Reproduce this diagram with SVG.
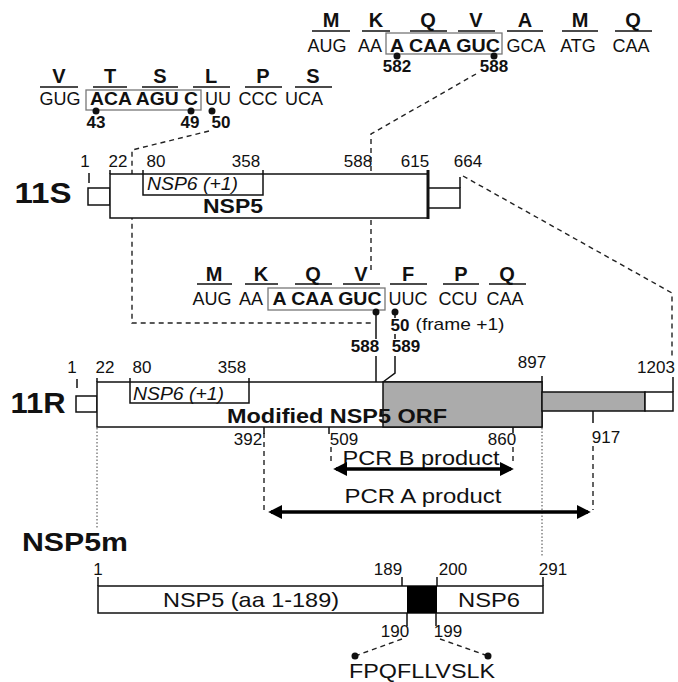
<svg xmlns="http://www.w3.org/2000/svg" width="678" height="682" viewBox="0 0 678 682">
<style>
text{font-family:"Liberation Sans",Arial,sans-serif;fill:#111;text-anchor:middle}
.aa{font-size:20px;font-weight:bold}
.cod{font-size:18px}
.codb{font-size:19px;font-weight:bold}
.num{font-size:17px}
.numb{font-size:17px;font-weight:bold}
.big{font-size:29px;font-weight:bold}
.lbl{font-size:20px;font-weight:bold}
.it{font-size:18px;font-style:italic;text-anchor:start}
.reg{font-size:21px}
.ln{stroke:#111;stroke-width:1.5;fill:none}
.thk{stroke:#111;stroke-width:3;fill:none}
.box{stroke:#111;stroke-width:1.5;fill:#fff}
.grey{stroke:#111;stroke-width:1.5;fill:#ababab}
.sbox{stroke:#777;stroke-width:1.3;fill:none}
.dash{stroke:#222;stroke-width:1.4;fill:none;stroke-dasharray:5,4}
.dot{stroke:#444;stroke-width:1;fill:none;stroke-dasharray:1.5,2}
.arr{stroke:#000;stroke-width:3.5;fill:none;marker-start:url(#ah);marker-end:url(#ah)}
</style>
<defs>
<marker id="ah" viewBox="0 0 10 10" refX="8" refY="5" markerWidth="4" markerHeight="4" orient="auto-start-reverse" markerUnits="strokeWidth">
<path d="M0,0 L10,5 L0,10 z" fill="#000"/>
</marker>
</defs>

<g id="connectors">
<path class="dash" d="M476,74 L371,134 L371,272"/>
<path class="dash" d="M209,131 L132,150 L132,323 L373,323"/>
<path class="dash" d="M463,176 L672,293 L672,357"/>
<path class="dot" d="M97,428 L97,528"/>
<path class="dot" d="M542,428 L542,556"/>
<path class="dash" d="M264,433 L264,510"/>
<path class="dash" d="M331,447 L331,464"/>
<path class="dash" d="M513,447 L513,464"/>
<path class="dash" d="M593,446 L593,510"/>
<path class="dash" d="M402,639 L355,656"/>
<path class="dash" d="M440,639 L488,656"/>
</g>

<g id="seq-top">
<text class="aa" x="331" y="27">M</text>
<text class="aa" x="376" y="27">K</text>
<text class="aa" x="428" y="27">Q</text>
<text class="aa" x="476" y="27">V</text>
<text class="aa" x="525" y="27">A</text>
<text class="aa" x="580" y="27">M</text>
<text class="aa" x="633" y="27">Q</text>
<path class="ln" d="M312,31H350M362,31H390M410,31H447M458,31H495M507,31H543M562,31H598M615,31H652"/>
<rect class="sbox" x="386" y="33" width="116" height="21"/>
<text class="cod" x="327" y="52">AUG</text>
<text class="cod" x="370" y="52">AA</text>
<text class="codb" x="445" y="52" textLength="110" lengthAdjust="spacingAndGlyphs">A CAA GUC</text>
<text class="cod" x="526" y="52">GCA</text>
<text class="cod" x="578" y="52">ATG</text>
<text class="cod" x="631" y="52">CAA</text>
<circle cx="397" cy="56" r="3.5" fill="#111"/>
<circle cx="494" cy="56" r="3.5" fill="#111"/>
<text class="numb" x="397" y="72">582</text>
<text class="numb" x="494" y="72">588</text>
</g>

<g id="seq-second">
<text class="aa" x="59" y="83">V</text>
<text class="aa" x="110" y="83">T</text>
<text class="aa" x="160" y="83">S</text>
<text class="aa" x="211" y="83">L</text>
<text class="aa" x="263" y="83">P</text>
<text class="aa" x="313" y="83">S</text>
<path class="ln" d="M40,87H78M93,87H127M142,87H178M193,87H230M245,87H282M295,87H332"/>
<rect class="sbox" x="86" y="90" width="115" height="20"/>
<text class="cod" x="60" y="105">GUG</text>
<text class="codb" x="144" y="105" textLength="108" lengthAdjust="spacingAndGlyphs">ACA AGU C</text>
<text class="cod" x="218" y="105">UU</text>
<text class="cod" x="258" y="105">CCC</text>
<text class="cod" x="304" y="105">UCA</text>
<circle cx="96" cy="111" r="3.5" fill="#111"/>
<circle cx="191" cy="111" r="3.5" fill="#111"/>
<circle cx="212" cy="111" r="3.5" fill="#111"/>
<text class="numb" x="96" y="128">43</text>
<text class="numb" x="190" y="128">49</text>
<text class="numb" x="221" y="128">50</text>
</g>

<g id="gene-11S">
<text class="big" x="43" y="203" textLength="57" lengthAdjust="spacingAndGlyphs">11S</text>
<text class="num" x="85" y="167">1</text>
<text class="num" x="118" y="167">22</text>
<text class="num" x="156" y="167">80</text>
<text class="num" x="246" y="167">358</text>
<text class="num" x="358" y="167">588</text>
<text class="num" x="415" y="167">615</text>
<text class="num" x="468" y="167">664</text>
<path class="ln" d="M89,173V183"/>
<rect class="box" x="88" y="188" width="22" height="17"/>
<rect class="box" x="110" y="174" width="318" height="44"/>
<path class="ln" d="M110,170V174"/>
<path class="ln" d="M143,170V195H263V170"/>
<text class="it" x="147" y="190" textLength="91" lengthAdjust="spacingAndGlyphs">NSP6 (+1)</text>
<text class="lbl" x="233" y="213" textLength="60" lengthAdjust="spacingAndGlyphs">NSP5</text>
<rect class="box" x="428" y="188" width="32" height="20"/>
<path class="ln" d="M460,177V188"/>
<path class="thk" d="M428,170V219"/>
</g>

<g id="seq-middle">
<text class="aa" x="214" y="281">M</text>
<text class="aa" x="261" y="281">K</text>
<text class="aa" x="313" y="281">Q</text>
<text class="aa" x="361" y="281">V</text>
<text class="aa" x="408" y="281">F</text>
<text class="aa" x="461" y="281">P</text>
<text class="aa" x="507" y="281">Q</text>
<path class="ln" d="M197,284H232M245,284H278M295,284H332M343,284H380M390,284H427M443,284H479M489,284H526"/>
<rect class="sbox" x="268" y="288" width="117" height="22"/>
<text class="cod" x="212" y="305">AUG</text>
<text class="cod" x="251" y="305">AA</text>
<text class="codb" x="327" y="305" textLength="109" lengthAdjust="spacingAndGlyphs">A CAA GUC</text>
<text class="cod" x="408" y="305">UUC</text>
<text class="cod" x="458" y="305">CCU</text>
<text class="cod" x="505" y="305">CAA</text>
<circle cx="376" cy="312" r="3.5" fill="#111"/>
<circle cx="395" cy="312" r="3.5" fill="#111"/>
<path class="ln" d="M376,312V339M395,312V318M395,334V339"/>
<text class="numb" x="400" y="331">50</text>
<text class="num" x="460" y="330" textLength="89" lengthAdjust="spacingAndGlyphs">(frame +1)</text>
<text class="numb" x="365" y="352">588</text>
<text class="numb" x="406" y="352">589</text>
</g>

<g id="gene-11R">
<text class="big" x="38" y="413" textLength="55" lengthAdjust="spacingAndGlyphs">11R</text>
<text class="num" x="72" y="373">1</text>
<text class="num" x="105" y="373">22</text>
<text class="num" x="142" y="373">80</text>
<text class="num" x="232" y="373">358</text>
<text class="num" x="532" y="368">897</text>
<text class="num" x="656" y="373">1203</text>
<path class="ln" d="M77,379V388"/>
<rect class="box" x="76" y="396" width="21" height="16"/>
<rect class="box" x="97" y="382" width="445" height="45"/>
<rect class="grey" x="383" y="382" width="159" height="45"/>
<path class="ln" d="M97,378V382"/>
<path class="ln" d="M130,378V403H249V378"/>
<text class="it" x="133" y="400" textLength="91" lengthAdjust="spacingAndGlyphs">NSP6 (+1)</text>
<text class="lbl" x="337" y="423" textLength="220" lengthAdjust="spacingAndGlyphs">Modified NSP5 ORF</text>
<rect class="grey" x="542" y="392" width="103" height="19"/>
<rect class="box" x="645" y="392" width="28" height="19"/>
<path class="ln" d="M542,376V382M673,377V392"/>
<path class="ln" d="M376,356V382M395,356V373L383,382"/>
<path class="ln" d="M264,427V434M329,427V434M513,427V433M593,411V423"/>
<text class="num" x="248" y="445">392</text>
<text class="num" x="344" y="445">509</text>
<text class="num" x="502" y="445">860</text>
<text class="num" x="606" y="443">917</text>
</g>

<g id="pcr">
<text class="reg" x="421" y="465" textLength="157" lengthAdjust="spacingAndGlyphs">PCR B product</text>
<path class="arr" d="M336,469H511"/>
<text class="reg" x="423" y="503" textLength="157" lengthAdjust="spacingAndGlyphs">PCR A product</text>
<path class="arr" d="M271,512H588"/>
</g>

<g id="nsp5m">
<text font-size="25" font-weight="bold" x="75" y="551" textLength="106" lengthAdjust="spacingAndGlyphs">NSP5m</text>
<text class="num" x="98" y="575">1</text>
<text class="num" x="388" y="575">189</text>
<text class="num" x="453" y="575">200</text>
<text class="num" x="553" y="575">291</text>
<path class="ln" d="M98,577V586M402,577V586M437,577V586M543,577V586"/>
<rect class="box" x="98" y="586" width="445" height="27"/>
<rect x="407" y="586" width="30" height="27" fill="#000"/>
<text class="reg" x="251" y="607" textLength="176" lengthAdjust="spacingAndGlyphs">NSP5 (aa 1-189)</text>
<text class="reg" x="489" y="607" textLength="62" lengthAdjust="spacingAndGlyphs">NSP6</text>
<path class="ln" d="M407,613V626M436,613V626"/>
<text class="num" x="395" y="637">190</text>
<text class="num" x="448" y="637">199</text>
<circle cx="355" cy="656" r="3.5" fill="#111"/>
<circle cx="488" cy="656" r="3.5" fill="#111"/>
<text class="reg" x="422" y="678" textLength="146" lengthAdjust="spacingAndGlyphs">FPQFLLVSLK</text>
</g>
</svg>
